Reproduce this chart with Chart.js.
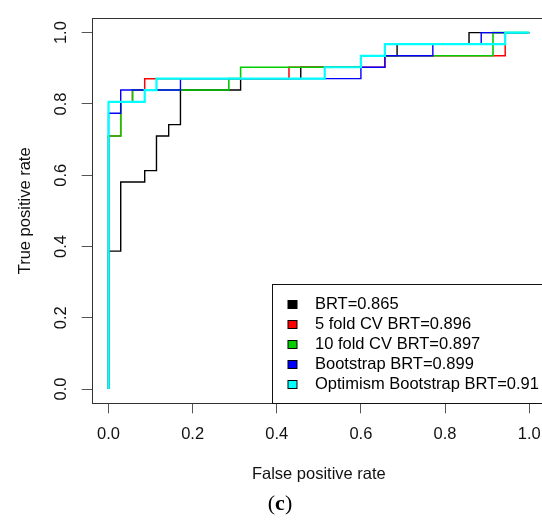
<!DOCTYPE html>
<html><head><meta charset="utf-8">
<script src="https://cdn.jsdelivr.net/npm/chart.js@4/dist/chart.umd.min.js"></script>
<style>
html,body{margin:0;padding:0;background:#fff;overflow:hidden;width:542px;height:520px;}
#wrap{position:relative;width:560px;height:520px;}
#cap{position:absolute;left:280px;top:503px;transform:translate(-50%,-50%);font-family:"Liberation Serif","DejaVu Serif",serif;font-size:22px;color:#000;white-space:nowrap;line-height:1;}
</style></head><body>
<div id="wrap"><canvas id="c" width="560" height="520"></canvas><div id="cap">(<b>c</b>)</div></div>
<script>
// ---- data ----
const seriesNames = ['BRT=0.865','5 fold CV BRT=0.896','10 fold CV BRT=0.897','Bootstrap BRT=0.899','Optimism Bootstrap BRT=0.91'];
const seriesColors = ['#000000','#FF0000','#00CD00','#0000FF','#00FFFF'];

const brtFpr = [0,0,0.029,0.029,0.086,0.086,0.114,0.114,0.143,0.143,0.171,0.171,0.314,0.314,0.457,0.457,0.600,0.600,0.686,0.686,0.857,0.857,1];
const brtTpr = [0,0.387,0.387,0.581,0.581,0.613,0.613,0.710,0.710,0.742,0.742,0.839,0.839,0.871,0.871,0.903,0.903,0.935,0.935,0.968,0.968,1,1];

const cv5Fpr = [0,0,0.029,0.029,0.057,0.057,0.086,0.086,0.429,0.429,0.657,0.657,0.943,0.943,1];
const cv5Tpr = [0,0.710,0.710,0.806,0.806,0.839,0.839,0.871,0.871,0.903,0.903,0.935,0.935,1,1];

const cv10Fpr = [0,0,0.029,0.029,0.057,0.057,0.286,0.286,0.314,0.314,0.600,0.600,0.914,0.914,1];
const cv10Tpr = [0,0.710,0.710,0.806,0.806,0.839,0.839,0.871,0.871,0.903,0.903,0.935,0.935,1,1];

const bootFpr = [0,0,0.029,0.029,0.171,0.171,0.600,0.600,0.657,0.657,0.771,0.771,0.886,0.886,1];
const bootTpr = [0,0.774,0.774,0.839,0.839,0.871,0.871,0.903,0.903,0.935,0.935,0.968,0.968,1,1];

const optFpr = [0,0,0.086,0.086,0.114,0.114,0.514,0.514,0.600,0.600,0.657,0.657,0.943,0.943,1];
const optTpr = [0,0.806,0.806,0.839,0.839,0.871,0.871,0.903,0.903,0.935,0.935,0.968,0.968,1,1];

const xTickValues = [0,0.2,0.4,0.6,0.8,1.0];
const xTickLabels = ['0.0','0.2','0.4','0.6','0.8','1.0'];
const yTickValues = [0,0.2,0.4,0.6,0.8,1.0];
const yTickLabels = ['0.0','0.2','0.4','0.6','0.8','1.0'];
const xTitle = 'False positive rate';
const yTitle = 'True positive rate';

// ---- chart ----
function pts(fpr, tpr){ return fpr.map((x,i)=>({x:x, y:tpr[i]})); }
const allFpr = [brtFpr, cv5Fpr, cv10Fpr, bootFpr, optFpr];
const allTpr = [brtTpr, cv5Tpr, cv10Tpr, bootTpr, optTpr];
const widths = [1.4, 1.5, 1.6, 1.4, 2.2];

const datasets = seriesNames.map((name,k)=>({
  label: name,
  data: pts(allFpr[k], allTpr[k]),
  borderColor: seriesColors[k],
  backgroundColor: seriesColors[k],
  borderWidth: widths[k],
  showLine: true,
  fill: false,
  tension: 0,
  pointRadius: 0,
  pointHoverRadius: 0,
  order: 5 - k
}));

Chart.defaults.font.family = '"Liberation Sans", Arial, sans-serif';
Chart.defaults.color = '#111';

const frame = {
  id: 'frame',
  afterDraw(chart){
    const {ctx, chartArea:a} = chart;
    ctx.save();
    ctx.strokeStyle = '#333';
    ctx.lineWidth = 1;
    ctx.strokeRect(Math.round(a.left)+0.5, Math.round(a.top)+0.5, Math.round(a.right-a.left), Math.round(a.bottom-a.top));
    ctx.restore();
  }
};

const boxLegend = {
  id: 'boxLegend',
  afterDraw(chart){
    const {ctx, chartArea:a} = chart;
    const left = Math.round(a.left + 180.6) + 0.5;
    const top = Math.round(a.bottom - 119) + 0.5;
    ctx.save();
    ctx.fillStyle = '#fff';
    ctx.fillRect(left, top, a.right - left, a.bottom - top);
    ctx.strokeStyle = '#111';
    ctx.lineWidth = 1;
    ctx.strokeRect(left, top, a.right - left, Math.round(a.bottom) - top + 0.5);
    ctx.font = '16.5px "Liberation Sans", Arial, sans-serif';
    ctx.textBaseline = 'middle';
    ctx.textAlign = 'left';
    chart.data.datasets.forEach((ds,i)=>{
      const cy = top + 19 + i*20.1;
      ctx.fillStyle = ds.borderColor;
      ctx.fillRect(left + 15.5, Math.round(cy - 4), 9, 8);
      ctx.strokeStyle = '#000';
      ctx.strokeRect(left + 15.5, Math.round(cy - 4) + 0.5, 9, 8);
      ctx.fillStyle = '#000';
      ctx.fillText(ds.label, left + 42.5, cy + 0.5);
    });
    ctx.restore();
  }
};

new Chart(document.getElementById('c'), {
  type: 'scatter',
  data: { datasets: datasets },
  plugins: [frame, boxLegend],
  options: {
    responsive: false,
    animation: false,
    events: [],
    layout: { padding: { top: 10.8, right: 14, left: 0, bottom: 0 } },
    plugins: { legend: { display: false }, tooltip: { enabled: false } },
    scales: {
      x: {
        type: 'linear', min: -0.04, max: 1.04,
        afterBuildTicks: s => { s.ticks = xTickValues.map(v=>({value:v})); },
        afterFit: s => { s.height = 116.7; },
        grid: { display: true, drawOnChartArea: false, drawTicks: true, tickLength: 10, tickColor: '#555', tickWidth: 1 },
        border: { display: false },
        ticks: { callback: (v,i)=>xTickLabels[i], padding: 11, font: { size: 16.5 }, color: '#111', maxRotation: 0, minRotation: 0, autoSkip: false },
        title: { display: true, text: xTitle, font: { size: 16.5 }, color: '#111', padding: { top: 0, bottom: 35.6 } }
      },
      y: {
        type: 'linear', min: -0.04, max: 1.04,
        afterBuildTicks: s => { s.ticks = yTickValues.map(v=>({value:v})); },
        afterFit: s => { s.width = 91.7; },
        grid: { display: true, drawOnChartArea: false, drawTicks: true, tickLength: 10, tickColor: '#555', tickWidth: 1 },
        border: { display: false },
        ticks: { callback: (v,i)=>yTickLabels[i], padding: 8.5, font: { size: 16.5 }, color: '#111', minRotation: 90, maxRotation: 90, crossAlign: 'center', autoSkip: false },
        title: { display: true, text: yTitle, font: { size: 16.5 }, color: '#111', padding: { top: 15.1, bottom: 0 } }
      }
    }
  }
});
</script>
</body></html>
